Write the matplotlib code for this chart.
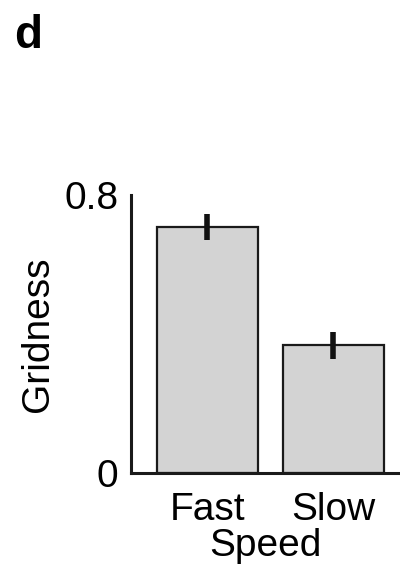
import matplotlib
matplotlib.use("Agg")
import matplotlib.pyplot as plt

speeds = ["Fast", "Slow"]
gridness = [0.708, 0.368]
sem = [0.037, 0.039]
yticks = [0, 0.8]
ytick_labels = ["0", "0.8"]

plt.rcParams['font.family'] = ['Liberation Sans', 'DejaVu Sans']

fig = plt.figure(figsize=(4.0, 5.78), dpi=100)
ax = fig.add_axes([0.3275, 0.1817, 0.6725, 0.481])

x = range(len(speeds))
ax.bar(x, gridness, width=0.8, color="#d3d3d3", edgecolor="#1a1a1a", linewidth=1.6)
ax.errorbar(x, gridness, yerr=sem, fmt="none", ecolor="#111111", elinewidth=4, capsize=0)

ax.set_xlim(-0.607, 1.528)
ax.set_ylim(0, 0.8)
ax.set_yticks(yticks)
ax.set_yticklabels(ytick_labels)
ax.set_xticks(list(x))
ax.set_xticklabels(speeds)
ax.tick_params(length=0, labelsize=28, pad=9)
ax.tick_params(axis="x", pad=14)

for side in ["top", "right"]:
    ax.spines[side].set_visible(False)
for side in ["left", "bottom"]:
    ax.spines[side].set_linewidth(2.2)
    ax.spines[side].set_color("#1a1a1a")

ax.set_ylabel("Gridness", fontsize=28, labelpad=6)
ax.set_xlabel("Speed", fontsize=28, labelpad=0)

fig.text(0.035, 0.975, "d", fontsize=33, fontweight="bold", va="top", ha="left")

fig.savefig("out.png", dpi=100)
